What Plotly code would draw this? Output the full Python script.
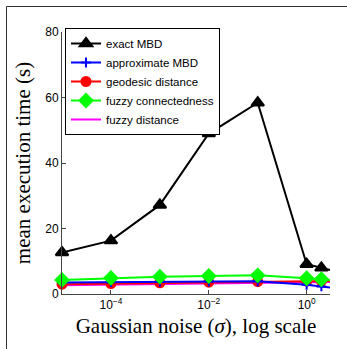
import plotly.graph_objects as go

sigma = [1e-5, 1e-4, 1e-3, 1e-2, 1e-1, 1, 2, 3]
exact_mbd = [12.7, 16.3, 27.2, 49.0, 58.4, 9.1, 8.0, 7.3]
approx_mbd = [3.5, 3.6, 3.7, 3.8, 3.9, 2.8, 2.3, 2.0]
geodesic = [3.0, 3.2, 3.4, 3.6, 3.8, 3.9, 3.9, 4.0]
fuzzy_conn = [4.3, 4.9, 5.3, 5.5, 5.7, 4.8, 4.5, 4.3]
fuzzy_dist = [2.7, 2.9, 3.0, 3.1, 3.4, 3.6, 3.6, 3.7]

names = ["exact MBD", "approximate MBD", "geodesic distance", "fuzzy connectedness", "fuzzy distance"]
colors = ["#000000", "#0000ff", "#ff0000", "#00ff00", "#ff00ff"]
symbols = ["triangle-up", "cross-thin", "circle", "diamond", None]
sizes = [11, 7, 9, 10, 0]
series = [exact_mbd, approx_mbd, geodesic, fuzzy_conn, fuzzy_dist]

tick_x = [1e-4, 1e-2, 1]
tick_x_text = ["10<sup>−4</sup>", "10<sup>−2</sup>", "10<sup>0</sup>"]
tick_y = [0, 20, 40, 60, 80]

fig = go.Figure()
order = [4, 2, 1, 3, 0]
for i in order:
    mode = "lines+markers" if symbols[i] else "lines"
    marker = dict(color=colors[i], size=sizes[i], symbol=symbols[i],
                  line=dict(color=colors[i], width=2)) if symbols[i] else None
    fig.add_trace(go.Scatter(x=sigma, y=series[i], name=names[i], mode=mode,
                             line=dict(color=colors[i], width=2),
                             marker=marker, legendrank=i + 1, cliponaxis=False))

L, R, T, B = 62, 17, 32, 55
W, H = 347, 349
pw, ph = W - L - R, H - T - B

def px(xp):
    return (xp - L) / pw

def py(yp):
    return (H - B - yp) / ph

fig.update_layout(
    width=W, height=H,
    margin=dict(l=L, r=R, t=T, b=B),
    paper_bgcolor="white", plot_bgcolor="white",
    showlegend=True,
    legend=dict(x=px(65), y=py(28), xanchor="left", yanchor="top",
                bordercolor="black", borderwidth=1, bgcolor="white",
                font=dict(family="Liberation Sans, Arial", size=11.5, color="black"),
                tracegroupgap=0, traceorder="normal", itemwidth=30),
    xaxis=dict(type="log", range=[-5, 0.4771], tickvals=tick_x, ticktext=tick_x_text,
               ticks="inside", ticklen=4, tickcolor="#444", showline=True, linecolor="#444",
               linewidth=1, showgrid=False, zeroline=False, mirror=False,
               tickfont=dict(family="Liberation Sans, Arial", size=12, color="black"),
               title=dict(text="Gaussian noise (<i>σ</i>), log scale", standoff=6,
                          font=dict(family="Liberation Serif, Times New Roman", size=21, color="black"))),
    yaxis=dict(range=[0, 80], tickvals=tick_y, ticks="inside", ticklen=4, tickcolor="#444",
               showline=True, linecolor="#444", linewidth=1, showgrid=False, zeroline=False,
               tickfont=dict(family="Liberation Sans, Arial", size=12, color="black"),
               title=dict(text="mean execution time (s)", standoff=8,
                          font=dict(family="Liberation Serif, Times New Roman", size=21, color="black"))),
    shapes=[
        dict(type="line", xref="paper", yref="paper", x0=px(6.5), x1=px(6.5), y0=py(349), y1=py(6.5),
             line=dict(color="#333", width=1), layer="below"),
        dict(type="line", xref="paper", yref="paper", x0=px(6.5), x1=px(347), y0=py(6.5), y1=py(6.5),
             line=dict(color="#333", width=1), layer="below"),
    ],
)

fig.write_html("out.html")
